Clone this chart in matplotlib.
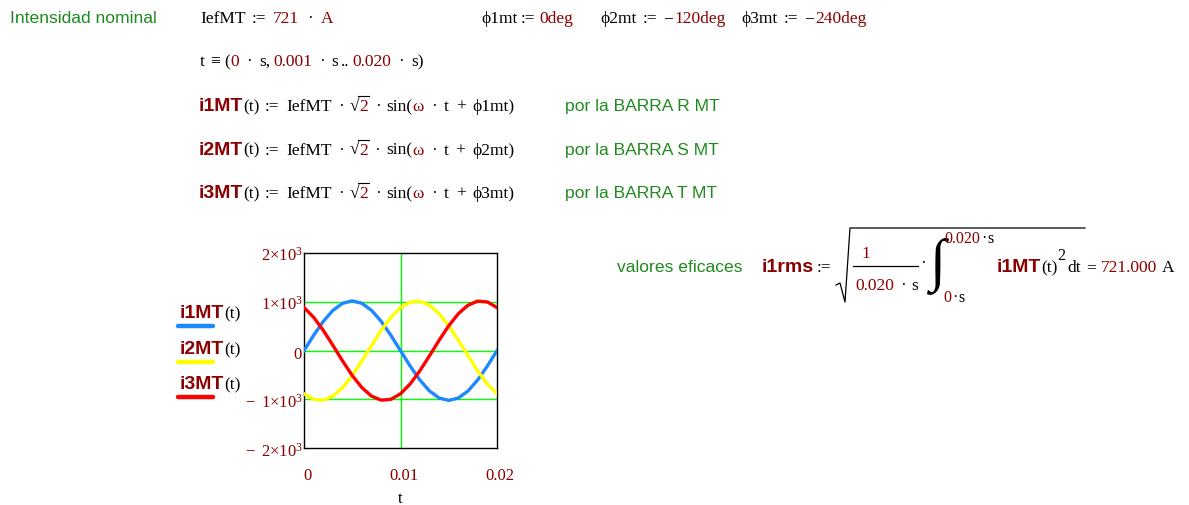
import numpy as np
import matplotlib.pyplot as plt
from matplotlib.transforms import ScaledTranslation

plt.rcParams['mathtext.fontset'] = 'custom'
plt.rcParams['mathtext.rm'] = 'Liberation Serif'
plt.rcParams['mathtext.it'] = 'Liberation Serif:italic'

# sample instants (s) and phase currents (A)
t = [0.000, 0.001, 0.002, 0.003, 0.004, 0.005, 0.006, 0.007, 0.008, 0.009, 0.010,
     0.011, 0.012, 0.013, 0.014, 0.015, 0.016, 0.017, 0.018, 0.019, 0.020]
i1 = [0.0, 315.1, 599.3, 824.9, 969.7, 1019.6, 969.7, 824.9, 599.3, 315.1, 0.0,
      -315.1, -599.3, -824.9, -969.7, -1019.6, -969.7, -824.9, -599.3, -315.1, 0.0]
i2 = [-883.0, -997.4, -1014.1, -931.5, -757.7, -509.8, -212.0, 106.6, 414.7, 682.3, 883.0,
      997.4, 1014.1, 931.5, 757.7, 509.8, 212.0, -106.6, -414.7, -682.3, -883.0]
i3 = [883.0, 682.3, 414.7, 106.6, -212.0, -509.8, -757.7, -931.5, -1014.1, -997.4, -883.0,
      -682.3, -414.7, -106.6, 212.0, 509.8, 757.7, 931.5, 1014.1, 997.4, 883.0]

series_names = ['i1MT', 'i2MT', 'i3MT']
series_colors = ['#1e88ff', '#ffff00', '#ff0000']

y_ticks = [-2000, -1000, 0, 1000, 2000]
y_labels = [r'$-\;\;2{\times}10^{3}$', r'$-\;\;1{\times}10^{3}$', r'$0$',
            r'$1{\times}10^{3}$', r'$2{\times}10^{3}$']
x_ticks = [0.0, 0.01, 0.02]
x_labels = ['0', '0.01', '0.02']

DR = '#8b0000'
GR = '#1f8a1f'
SER = ['Liberation Serif', 'DejaVu Serif']
SAN = ['Liberation Sans', 'DejaVu Sans']
S = dict(family=SER, fontsize=12.5, color='black')
R = dict(family=SER, fontsize=12.5, color=DR)
B = dict(family=SAN, fontsize=14, fontweight='bold', color=DR)
G = dict(family=SAN, fontsize=12.6, color=GR)
Ssm = dict(S, fontsize=11.5)
Rsm = dict(R, fontsize=11.5)

fig = plt.figure(figsize=(11.89, 5.06), dpi=100)
ov = fig.add_axes([0, 0, 1, 1])
ov.set_xlim(0, 1189)
ov.set_ylim(506, 0)
ov.axis('off')
rend = fig.canvas.get_renderer()


def run(x, y, parts):
    # lay text pieces one after another on a baseline; numbers are gaps in px
    for p in parts:
        if isinstance(p, (int, float)):
            x += p
            continue
        s, st = p
        txt = ov.text(x, y, s, va='baseline', ha='left', **st)
        x += txt.get_window_extent(rend).width
    return x


def sqrt2(x, y):
    txt = ov.text(x, y, '√', va='baseline', ha='left', **S)
    x2 = x + txt.get_window_extent(rend).width
    txt2 = ov.text(x2, y, '2', va='baseline', ha='left', **R)
    x3 = x2 + txt2.get_window_extent(rend).width + 1
    ov.plot([x2 - 1, x3], [y - 14, y - 14], color='black', lw=0.8)
    return x3


# header
run(10, 23, [('Intensidad nominal', G)])
run(200, 23, [('IefMT', S), 6, (':=', S), 7, ('721', R), 8, ('·', S), 8, ('A', R)])
run(481, 23, [('ϕ1mt', S), 3, (':=', S), 4, ('0deg', R)])
run(600, 23, [('ϕ2mt', S), 6, (':=', S), 6, ('−', S), 2, ('120deg', R)])
run(741, 23, [('ϕ3mt', S), 6, (':=', S), 6, ('−', S), 2, ('240deg', R)])
run(200, 66, [('t', S), 5, ('≡', S), 5, ('(', S), ('0', R), 7, ('·', S), 7, ('s,', S), 3,
              ('0.001', R), 7, ('·', S), 7, ('s', S), 3, ('..', S), 3,
              ('0.020', R), 7, ('·', S), 7, ('s)', S)])

# phase current definitions
for k, (yb, ph, bar) in enumerate(zip([111, 154.5, 198], ['ϕ1mt)', 'ϕ2mt)', 'ϕ3mt)'], ['R', 'S', 'T'])):
    x = run(199, yb, [(series_names[k], B), ('(t)', S), 5, (':=', S), 7, ('IefMT', S), 6, ('·', S), 6])
    x = sqrt2(x, yb)
    run(x, yb, [6, ('·', S), 6, ('sin(', S), ('ω', R), 7, ('·', S), 7, ('t', S), 7, ('+', S), 7, (ph, S)])
    run(565, yb, [('por la BARRA %s MT' % bar, G)])

# plot
ax = fig.add_axes([304 / 1189, 1 - 449.3 / 506, 193 / 1189, 195.3 / 506])
ax.axhline(1000, color='#00ff00', lw=1, zorder=1)
ax.axhline(0, color='#00ff00', lw=1, zorder=1)
ax.axhline(-1000, color='#00ff00', lw=1, zorder=1)
ax.axvline(0.01, color='#00ff00', lw=1, zorder=1)
for y, c in zip([i1, i2, i3], series_colors):
    ax.plot(t, y, color=c, lw=2.4, zorder=3)
ax.set_xlim(0, 0.02)
ax.set_ylim(-2000, 2000)
ax.set_yticks(y_ticks)
ax.set_yticklabels(y_labels, color=DR, fontsize=12)
ax.set_xticks(x_ticks)
ax.set_xticklabels(x_labels, color=DR, family=SER, fontsize=12)
ax.tick_params(axis='both', length=0)
ax.tick_params(axis='y', pad=1)
ax.tick_params(axis='x', pad=13.5)
shift = ScaledTranslation(3 / 100, 0, fig.dpi_scale_trans)
for lab in ax.get_xticklabels():
    lab.set_transform(lab.get_transform() + shift)
ax.set_xlabel('t', family=SER, fontsize=12, labelpad=5)
for sp in ax.spines.values():
    sp.set_color('black')
    sp.set_linewidth(1)

# legend for the plot
for k, yb in enumerate([318, 354, 389]):
    run(180, yb, [(series_names[k], B), ('(t)', S)])
    ov.plot([178, 213], [yb + 9, yb + 9], color=series_colors[k], lw=3.2, solid_capstyle='round')

# rms value
yb = 272
run(617, yb, [('valores eficaces', G)])
run(762, yb, [('i1rms', B), 3, (':=', S)])
ov.plot([836, 840, 845, 850, 1085], [286, 284, 303, 229, 229], color='black', lw=0.9)
ov.text(866, 258, '1', ha='center', va='baseline', **R)
ov.plot([853, 918], [267, 267], color='black', lw=0.9)
run(855, 290, [('0.020', R), 6, ('·', S), 6, ('s', S)])
ov.text(923, 268, '·', ha='center', va='baseline', **S)
ov.text(937, 266, '∫', ha='center', va='center', family=SER, fontsize=42, color='black')
run(944, 243, [('0.020', Rsm), 1, ('·', Ssm), 1, ('s', Ssm)])
run(943, 302, [('0', Rsm), 1, ('·', Ssm), 1, ('s', Ssm)])
x = run(997, yb, [('i1MT', B), ('(t)', S)])
ov.text(x, yb - 12, '2', ha='left', va='baseline', **dict(S, fontsize=11.5))
run(x + 10, yb, [('dt', S), 5, ('=', S), 5, ('721.000', R), 4, ('A', S)])

fig.savefig('out.png', dpi=100, facecolor='white')
